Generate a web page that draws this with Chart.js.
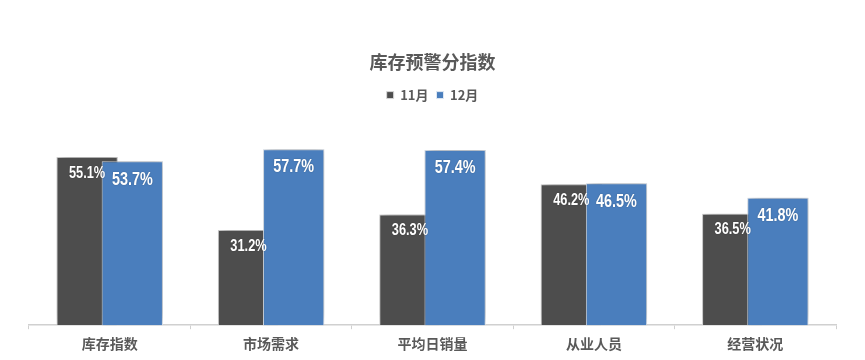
<!DOCTYPE html>
<html><head><meta charset="utf-8">
<script src="https://cdn.jsdelivr.net/npm/chart.js@4/dist/chart.umd.min.js"></script>
<style>html,body{margin:0;padding:0;background:#fff}#wrap{width:865px;height:360px}</style>
</head><body><div id="wrap"><canvas id="c"></canvas></div>
<script>
const categories = ['库存指数','市场需求','平均日销量','从业人员','经营状况'];
const seriesNames = ['11月','12月'];
const nov = [55.1, 31.2, 36.3, 46.2, 36.5];
const dec = [53.7, 57.7, 57.4, 46.5, 41.8];
const colors = ['#4d4d4d', '#4a7ebd'];

function setShadow(ctx) {
  ctx.shadowColor = 'rgba(0,0,0,0.28)'; ctx.shadowBlur = 10; ctx.shadowOffsetX = 2; ctx.shadowOffsetY = -3;
}
// Chart.js paints dataset 0 last; paint the 12月 series after 11月 so it overlaps it, as in the original.
const layerPlugin = {
  id: 'barLayer',
  beforeDatasetDraw(chart, args) {
    if (args.index === 1) return false;
    const ctx = chart.ctx; ctx.save(); setShadow(ctx);
  },
  afterDatasetDraw(chart, args) {
    if (args.index !== 0) return;
    chart.ctx.restore();
    const ctx = chart.ctx; ctx.save(); setShadow(ctx);
    chart.getDatasetMeta(1).controller.draw();
    ctx.restore();
  }
};
const labelPlugin = {
  id: 'barLabels',
  afterDatasetsDraw(chart) {
    const ctx = chart.ctx;
    chart.data.datasets.forEach((ds, di) => {
      const meta = chart.getDatasetMeta(di);
      const size = di === 0 ? 16 : 18;
      const off = di === 0 ? 16 : 18;
      meta.data.forEach((bar, i) => {
        ctx.save();
        ctx.translate(bar.x, bar.y + off);
        ctx.scale(0.8, 1.05);
        ctx.font = 'bold ' + size + 'px "Liberation Sans", Arial, sans-serif';
        ctx.fillStyle = '#ffffff'; ctx.textAlign = 'center'; ctx.textBaseline = 'middle';
        ctx.shadowColor = 'rgba(0,0,0,0.3)'; ctx.shadowBlur = 1.5;
        ctx.fillText(ds.data[i].toFixed(1) + '%', 0, 0);
        ctx.restore();
      });
    });
  }
};

new Chart(document.getElementById('c'), {
  type: 'bar',
  data: {
    labels: categories,
    datasets: [
      { label: seriesNames[0], data: nov, backgroundColor: colors[0], borderColor: '#d8d8d8', borderWidth: 1, categoryPercentage: 0.56, barPercentage: 1.356 },
      { label: seriesNames[1], data: dec, backgroundColor: colors[1], borderColor: '#dfe8f3', borderWidth: 1, categoryPercentage: 0.56, barPercentage: 1.356 }
    ]
  },
  options: {
    responsive: true, maintainAspectRatio: false, animation: false,
    layout: { padding: { top: 51, left: 29, right: 29, bottom: 2 } },
    plugins: {
      title: { display: true, text: '库存预警分指数', color: '#595959',
        font: { family: '"Noto Sans CJK SC", sans-serif', size: 18, weight: 'bold' }, padding: { top: 0, bottom: 8 } },
      legend: { display: true, position: 'top',
        labels: { color: '#595959', boxWidth: 7, boxHeight: 7, padding: 8,
          font: { family: '"Noto Sans CJK SC", sans-serif', size: 13, weight: 'bold' } } },
      tooltip: { enabled: false }
    },
    scales: {
      x: {
        grid: { display: true, offset: true, drawOnChartArea: false, drawTicks: true, tickLength: 4, color: '#d0d0d0' },
        border: { display: true, color: '#d0d0d0', width: 1.5 },
        ticks: { color: '#595959', padding: 6, font: { family: '"Noto Sans CJK SC", sans-serif', size: 14, weight: 'bold' } }
      },
      y: { display: false, min: 0, max: 70 }
    }
  },
  plugins: [layerPlugin, labelPlugin]
});
</script></body></html>
